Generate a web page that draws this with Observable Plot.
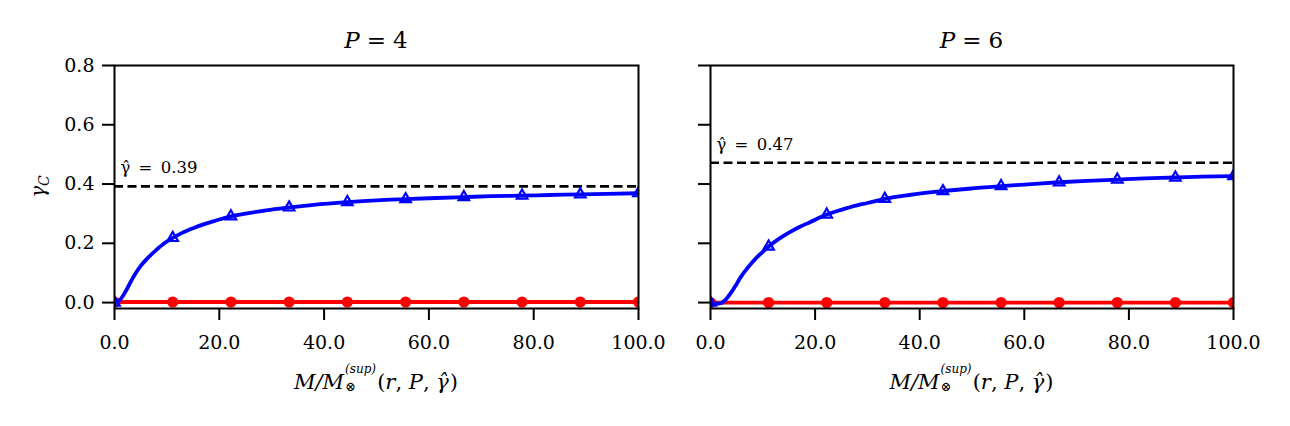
<!DOCTYPE html>
<html><head><meta charset="utf-8">
<script src="https://cdn.jsdelivr.net/npm/d3@7"></script>
<script src="https://cdn.jsdelivr.net/npm/@observablehq/plot@0.6"></script>
<style>
body{margin:0;background:#fff;}
#wrap{position:relative;width:1290px;height:426px;background:#fff;font-family:"DejaVu Serif";}
#wrap svg{position:absolute;top:0;}
#wrap svg text{font-family:"DejaVu Serif";}
</style></head><body><div id="wrap"></div>
<script>
// ---- data ----
const panelP = [4, 6];
const gammaHat = [0.392, 0.472];
const markerX = [0, 11.11, 22.22, 33.33, 44.44, 55.56, 66.67, 77.78, 88.89, 100];
const triP4 = [0, 0.218, 0.291, 0.321, 0.339, 0.349, 0.356, 0.361, 0.365, 0.369];
const triP6 = [0, 0.189, 0.297, 0.350, 0.376, 0.393, 0.406, 0.415, 0.422, 0.427];
const redP4 = [0.002, 0.002, 0.002, 0.002, 0.002, 0.002, 0.002, 0.002, 0.002, 0.002];
const redP6 = [0, 0, 0, 0, 0, 0, 0, 0, 0, 0];
const curveX = [0, 1, 2, 3, 4, 5, 6, 7, 8, 9, 10, 11.11, 13, 15, 17, 19, 22.22, 25, 28, 30, 33.33, 38, 44.44, 50, 55.56, 60, 66.67, 72, 77.78, 83, 88.89, 94, 100];
const curveP4 = [0, 0.008, 0.034, 0.067, 0.098, 0.124, 0.144, 0.162, 0.178, 0.193, 0.206, 0.218, 0.236, 0.251, 0.264, 0.275, 0.291, 0.300, 0.309, 0.314, 0.321, 0.330, 0.339, 0.345, 0.349, 0.352, 0.356, 0.359, 0.361, 0.363, 0.365, 0.367, 0.369];
const curveP6 = [0, -0.004, -0.002, 0.012, 0.035, 0.063, 0.092, 0.115, 0.136, 0.155, 0.171, 0.189, 0.214, 0.236, 0.255, 0.271, 0.297, 0.313, 0.328, 0.336, 0.350, 0.363, 0.376, 0.385, 0.393, 0.398, 0.406, 0.411, 0.415, 0.419, 0.422, 0.425, 0.427];
const xTicks = [0, 20, 40, 60, 80, 100];
const yTicks = [0, 0.2, 0.4, 0.6, 0.8];

const tris = [triP4, triP6], reds = [redP4, redP6], curves = [curveP4, curveP6];
const FONT = "DejaVu Serif";
const W = 645, H = 426, MT = 65, MB = 118;
const layouts = [{left: 0, ml: 114, mr: 7}, {left: 645, ml: 65, mr: 57}];
const wrap = document.getElementById("wrap");

panelP.forEach((p, i) => {
  const L = layouts[i];
  const curve = curveX.map((x, j) => ({x, y: curves[i][j]}));
  const tri = markerX.map((x, j) => ({x, y: tris[i][j]}));
  const red = markerX.map((x, j) => ({x, y: reds[i][j]}));
  const plot = Plot.plot({
    width: W, height: H,
    marginLeft: L.ml, marginRight: L.mr, marginTop: MT, marginBottom: MB,
    x: {domain: [0, 100]},
    y: {domain: [-0.02, 0.8]},
    style: {fontFamily: FONT, fontSize: "19px", color: "black", background: "none", overflow: "visible"},
    marks: [
      Plot.ruleY([gammaHat[i]], {stroke: "black", strokeWidth: 2.6, strokeDasharray: "9,4.5"}),
      Plot.text([gammaHat[i]], {y: d => d, frameAnchor: "left", dx: 6, dy: -13, lineAnchor: "bottom", textAnchor: "start",
        text: d => "γ\u0302\u2002=\u2002" + d3.format(".2f")(d), fontSize: 16.5}),
      Plot.line(red, {x: "x", y: "y", stroke: "#ff0000", strokeWidth: 3.8, clip: true}),
      Plot.dot(red, {x: "x", y: "y", r: 5.6, fill: "#ff0000", clip: true}),
      Plot.line(curve, {x: "x", y: "y", stroke: "#0000ff", strokeWidth: 3.8, curve: "monotone-x", clip: true}),
      Plot.dot(tri, {x: "x", y: "y", symbol: "triangle", r: 3.9, stroke: "#0000ff", strokeWidth: 2.2, fill: "white", fillOpacity: 0, clip: true}),
      Plot.axisX({ticks: xTicks, tickFormat: d3.format(".1f"), tickSize: 12, tickPadding: 15, strokeWidth: 2, label: null}),
      Plot.axisY({ticks: yTicks, tickFormat: i === 0 ? d3.format(".1f") : () => "", tickSize: 12, tickPadding: 8, strokeWidth: 2, label: null}),
      Plot.frame({stroke: "black", strokeWidth: 2})
    ]
  });
  plot.style.left = L.left + "px";
  wrap.appendChild(plot);
  const svg = d3.select(plot);
  const cx = L.ml + (W - L.ml - L.mr) / 2;

  // title
  const t = svg.append("text").attr("x", cx).attr("y", 48).attr("text-anchor", "middle")
    .style("font-size", "23px").attr("fill", "black");
  t.append("tspan").style("font-style", "italic").text("P");
  t.append("tspan").attr("dx", 7).text("=");
  t.append("tspan").attr("dx", 7).text(String(p));

  // x label: M/M_⊗^(sup)(r, P, γ̂)
  const xl = svg.append("text").attr("x", cx).attr("y", 389).attr("text-anchor", "middle")
    .style("font-size", "21px").attr("fill", "black");
  xl.append("tspan").style("font-style", "italic").text("M/M");
  xl.append("tspan").attr("dx", 1).attr("dy", -16).style("font-size", "12px").style("font-style", "italic").text("(sup)");
  xl.append("tspan").attr("dx", -30.8).attr("dy", 18).style("font-size", "13px").text("⊗");
  xl.append("tspan").attr("dx", 21).attr("dy", -2).text("(");
  xl.append("tspan").style("font-style", "italic").text("r");
  xl.append("tspan").text(", ");
  xl.append("tspan").style("font-style", "italic").text("P");
  xl.append("tspan").text(", ");
  xl.append("tspan").style("font-style", "italic").text("γ\u0302");
  xl.append("tspan").attr("dx", 1).text(")");

  // y label (left panel only)
  if (i === 0) {
    const yl = svg.append("text").attr("transform", `translate(45,${MT + (H - MT - MB) / 2}) rotate(-90)`)
      .attr("text-anchor", "middle").style("font-size", "20px").attr("fill", "black");
    yl.append("tspan").style("font-style", "italic").text("γ");
    yl.append("tspan").style("font-style", "italic").style("font-size", "14px").attr("dy", 4).text("C");
  }
});
</script>
</body></html>
